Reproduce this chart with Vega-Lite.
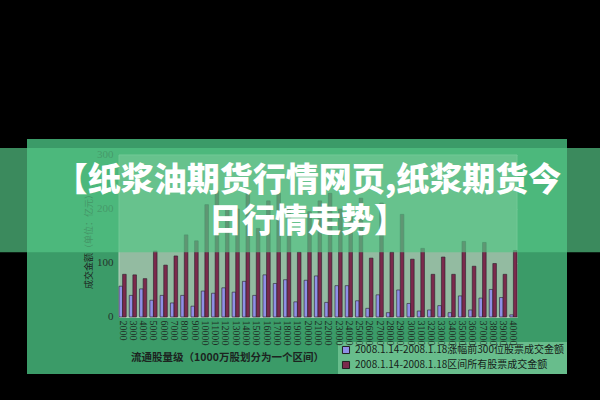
{
 "$schema": "https://vega.github.io/schema/vega-lite/v6.json",
 "background": "#000000",
 "padding": {"top": 139, "bottom": 26, "left": 0, "right": 0},
 "title": {"text": ["【纸浆油期货行情网页,纸浆期货今", "日行情走势】"], "font": "Noto Sans CJK SC", "fontSize": 33, "fontWeight": 900, "color": "#ffffff", "lineHeight": 41, "anchor": "middle", "offset": -100, "dx": 8},
 "spacing": 0,
 "bounds": "flush",
 "resolve": {"legend": {"color": "independent"}},
 "config": {"view": {"stroke": null}},
 "datasets": {
  "band": [{}],
  "bars": [
   {"c":"2000","s":"2008.1.14-2008.1.18涨幅前300位股票成交金额","v":57},{"c":"2000","s":"2008.1.14-2008.1.18区间所有股票成交金额","v":79},
   {"c":"3000","s":"2008.1.14-2008.1.18涨幅前300位股票成交金额","v":40},{"c":"3000","s":"2008.1.14-2008.1.18区间所有股票成交金额","v":78},
   {"c":"4000","s":"2008.1.14-2008.1.18涨幅前300位股票成交金额","v":52},{"c":"4000","s":"2008.1.14-2008.1.18区间所有股票成交金额","v":71},
   {"c":"5000","s":"2008.1.14-2008.1.18涨幅前300位股票成交金额","v":31},{"c":"5000","s":"2008.1.14-2008.1.18区间所有股票成交金额","v":122},
   {"c":"6000","s":"2008.1.14-2008.1.18涨幅前300位股票成交金额","v":40},{"c":"6000","s":"2008.1.14-2008.1.18区间所有股票成交金额","v":96},
   {"c":"7000","s":"2008.1.14-2008.1.18涨幅前300位股票成交金额","v":26},{"c":"7000","s":"2008.1.14-2008.1.18区间所有股票成交金额","v":113},
   {"c":"8000","s":"2008.1.14-2008.1.18涨幅前300位股票成交金额","v":40},{"c":"8000","s":"2008.1.14-2008.1.18区间所有股票成交金额","v":152},
   {"c":"9000","s":"2008.1.14-2008.1.18涨幅前300位股票成交金额","v":20},{"c":"9000","s":"2008.1.14-2008.1.18区间所有股票成交金额","v":141},
   {"c":"10000","s":"2008.1.14-2008.1.18涨幅前300位股票成交金额","v":48},{"c":"10000","s":"2008.1.14-2008.1.18区间所有股票成交金额","v":208},
   {"c":"11000","s":"2008.1.14-2008.1.18涨幅前300位股票成交金额","v":44},{"c":"11000","s":"2008.1.14-2008.1.18区间所有股票成交金额","v":233},
   {"c":"12000","s":"2008.1.14-2008.1.18涨幅前300位股票成交金额","v":54},{"c":"12000","s":"2008.1.14-2008.1.18区间所有股票成交金额","v":203},
   {"c":"13000","s":"2008.1.14-2008.1.18涨幅前300位股票成交金额","v":46},{"c":"13000","s":"2008.1.14-2008.1.18区间所有股票成交金额","v":200},
   {"c":"14000","s":"2008.1.14-2008.1.18涨幅前300位股票成交金额","v":66},{"c":"14000","s":"2008.1.14-2008.1.18区间所有股票成交金额","v":231},
   {"c":"15000","s":"2008.1.14-2008.1.18涨幅前300位股票成交金额","v":40},{"c":"15000","s":"2008.1.14-2008.1.18区间所有股票成交金额","v":164},
   {"c":"16000","s":"2008.1.14-2008.1.18涨幅前300位股票成交金额","v":78},{"c":"16000","s":"2008.1.14-2008.1.18区间所有股票成交金额","v":215},
   {"c":"17000","s":"2008.1.14-2008.1.18涨幅前300位股票成交金额","v":62},{"c":"17000","s":"2008.1.14-2008.1.18区间所有股票成交金额","v":229},
   {"c":"18000","s":"2008.1.14-2008.1.18涨幅前300位股票成交金额","v":69},{"c":"18000","s":"2008.1.14-2008.1.18区间所有股票成交金额","v":205},
   {"c":"19000","s":"2008.1.14-2008.1.18涨幅前300位股票成交金额","v":28},{"c":"19000","s":"2008.1.14-2008.1.18区间所有股票成交金额","v":120},
   {"c":"20000","s":"2008.1.14-2008.1.18涨幅前300位股票成交金额","v":68},{"c":"20000","s":"2008.1.14-2008.1.18区间所有股票成交金额","v":195},
   {"c":"21000","s":"2008.1.14-2008.1.18涨幅前300位股票成交金额","v":76},{"c":"21000","s":"2008.1.14-2008.1.18区间所有股票成交金额","v":215},
   {"c":"22000","s":"2008.1.14-2008.1.18涨幅前300位股票成交金额","v":27},{"c":"22000","s":"2008.1.14-2008.1.18区间所有股票成交金额","v":229},
   {"c":"23000","s":"2008.1.14-2008.1.18涨幅前300位股票成交金额","v":58},{"c":"23000","s":"2008.1.14-2008.1.18区间所有股票成交金额","v":200},
   {"c":"24000","s":"2008.1.14-2008.1.18涨幅前300位股票成交金额","v":58},{"c":"24000","s":"2008.1.14-2008.1.18区间所有股票成交金额","v":185},
   {"c":"25000","s":"2008.1.14-2008.1.18涨幅前300位股票成交金额","v":30},{"c":"25000","s":"2008.1.14-2008.1.18区间所有股票成交金额","v":220},
   {"c":"26000","s":"2008.1.14-2008.1.18涨幅前300位股票成交金额","v":16},{"c":"26000","s":"2008.1.14-2008.1.18区间所有股票成交金额","v":109},
   {"c":"27000","s":"2008.1.14-2008.1.18涨幅前300位股票成交金额","v":41},{"c":"27000","s":"2008.1.14-2008.1.18区间所有股票成交金额","v":211},
   {"c":"28000","s":"2008.1.14-2008.1.18涨幅前300位股票成交金额","v":8},{"c":"28000","s":"2008.1.14-2008.1.18区间所有股票成交金额","v":120},
   {"c":"29000","s":"2008.1.14-2008.1.18涨幅前300位股票成交金额","v":50},{"c":"29000","s":"2008.1.14-2008.1.18区间所有股票成交金额","v":190},
   {"c":"30000","s":"2008.1.14-2008.1.18涨幅前300位股票成交金额","v":25},{"c":"30000","s":"2008.1.14-2008.1.18区间所有股票成交金额","v":107},
   {"c":"31000","s":"2008.1.14-2008.1.18涨幅前300位股票成交金额","v":11},{"c":"31000","s":"2008.1.14-2008.1.18区间所有股票成交金额","v":127},
   {"c":"32000","s":"2008.1.14-2008.1.18涨幅前300位股票成交金额","v":13},{"c":"32000","s":"2008.1.14-2008.1.18区间所有股票成交金额","v":79},
   {"c":"33000","s":"2008.1.14-2008.1.18涨幅前300位股票成交金额","v":21},{"c":"33000","s":"2008.1.14-2008.1.18区间所有股票成交金额","v":111},
   {"c":"34000","s":"2008.1.14-2008.1.18涨幅前300位股票成交金额","v":8},{"c":"34000","s":"2008.1.14-2008.1.18区间所有股票成交金额","v":79},
   {"c":"35000","s":"2008.1.14-2008.1.18涨幅前300位股票成交金额","v":39},{"c":"35000","s":"2008.1.14-2008.1.18区间所有股票成交金额","v":140},
   {"c":"36000","s":"2008.1.14-2008.1.18涨幅前300位股票成交金额","v":13},{"c":"36000","s":"2008.1.14-2008.1.18区间所有股票成交金额","v":94},
   {"c":"37000","s":"2008.1.14-2008.1.18涨幅前300位股票成交金额","v":35},{"c":"37000","s":"2008.1.14-2008.1.18区间所有股票成交金额","v":138},
   {"c":"38000","s":"2008.1.14-2008.1.18涨幅前300位股票成交金额","v":51},{"c":"38000","s":"2008.1.14-2008.1.18区间所有股票成交金额","v":99},
   {"c":"39000","s":"2008.1.14-2008.1.18涨幅前300位股票成交金额","v":36},{"c":"39000","s":"2008.1.14-2008.1.18区间所有股票成交金额","v":79},
   {"c":"40000","s":"2008.1.14-2008.1.18涨幅前300位股票成交金额","v":4},{"c":"40000","s":"2008.1.14-2008.1.18区间所有股票成交金额","v":123}
  ]
 },
 "hconcat": [
  {
   "width": 27, "height": 235,
   "data": {"name": "band"},
   "mark": {"type": "rect", "color": "#54c585", "opacity": 0.7},
   "encoding": {
    "y": {"datum": 120, "type": "quantitative", "scale": {"domain": [-105.6, 329.6], "nice": false, "zero": false}, "axis": null},
    "y2": {"datum": 313}
   }
  },
  {
   "width": 540, "height": 235,
   "view": {"fill": "#3b9b68", "stroke": null},
   "layer": [
    {
     "data": {"name": "band"},
     "mark": {"type": "rect", "color": "#93bba1", "stroke": "#b3d1bc", "strokeWidth": 1},
     "encoding": {
      "x": {"datum": "2000", "type": "nominal", "bandPosition": 0},
      "x2": {"datum": "40000", "bandPosition": 1},
      "y": {"datum": 0, "type": "quantitative"},
      "y2": {"datum": 300}
     }
    },
    {
     "data": {"name": "bars"},
     "mark": {"type": "bar", "stroke": "#2a1d2a", "strokeWidth": 0.6},
     "encoding": {
      "x": {"field": "c", "type": "nominal", "sort": null,
            "scale": {"domain": ["2000","3000","4000","5000","6000","7000","8000","9000","10000","11000","12000","13000","14000","15000","16000","17000","18000","19000","20000","21000","22000","23000","24000","25000","26000","27000","28000","29000","30000","31000","32000","33000","34000","35000","36000","37000","38000","39000","40000"], "range": [92, 490], "paddingInner": 0.3, "paddingOuter": 0},
            "axis": {"title": "流通股量级（1000万股划分为一个区间）", "offset": -57, "labelAngle": 90, "labelAlign": "left", "labelBaseline": "middle", "labelPadding": 3, "ticks": false, "domain": false, "grid": false, "labelFont": "Liberation Serif", "labelFontSize": 10, "labelColor": "#1e2b23", "titleFont": "Noto Sans CJK SC", "titleFontSize": 10.5, "titleFontWeight": "bold", "titleColor": "#1c241f", "titleX": 200, "titleY": 40, "titleAlign": "center", "titleBaseline": "middle"}},
      "xOffset": {"field": "s", "type": "nominal", "sort": ["2008.1.14-2008.1.18涨幅前300位股票成交金额", "2008.1.14-2008.1.18区间所有股票成交金额"]},
      "y": {"field": "v", "type": "quantitative",
            "scale": {"domain": [-105.6, 329.6], "nice": false, "zero": false},
            "axis": {"title": "成交金额（单位：亿元）", "offset": -91, "values": [0, 50, 100, 150, 200, 250, 300], "grid": true, "gridColor": "#a9c9b4", "gridWidth": 1, "ticks": false, "domain": false, "labelFont": "Liberation Serif", "labelFontSize": 11, "labelColor": "#23332a", "labelPadding": 5, "titleFont": "Noto Sans CJK SC", "titleFontSize": 9, "titleFontWeight": "normal", "titleColor": "#1c241f", "titleAngle": -90, "titleX": -30, "titleY": 100, "titleAlign": "center", "titleBaseline": "middle"}},
      "color": {"field": "s", "type": "nominal",
                "scale": {"domain": ["2008.1.14-2008.1.18涨幅前300位股票成交金额", "2008.1.14-2008.1.18区间所有股票成交金额"], "range": ["#8f8fe6", "#7b2a4c"]},
                "legend": {"title": null, "orient": "bottom-right", "offset": 0, "fillColor": "#68bd8c", "padding": 3, "labelFont": "Noto Sans CJK SC", "labelFontSize": 10, "labelColor": "#151c18", "labelLimit": 400, "symbolType": "square", "symbolSize": 50, "symbolStrokeColor": "#202020", "symbolStrokeWidth": 1, "symbolOpacity": 1, "rowPadding": 3}}
     }
    },
    {
     "data": {"name": "band"},
     "mark": {"type": "rect", "color": "#54c585", "opacity": 0.7},
     "encoding": {
      "y": {"datum": 120, "type": "quantitative"},
      "y2": {"datum": 313}
     }
    }
   ]
  },
  {
   "width": 33, "height": 235,
   "data": {"name": "band"},
   "mark": {"type": "rect", "color": "#54c585", "opacity": 0.7},
   "encoding": {
    "y": {"datum": 120, "type": "quantitative", "scale": {"domain": [-105.6, 329.6], "nice": false, "zero": false}, "axis": null},
    "y2": {"datum": 313}
   }
  }
 ]
}
